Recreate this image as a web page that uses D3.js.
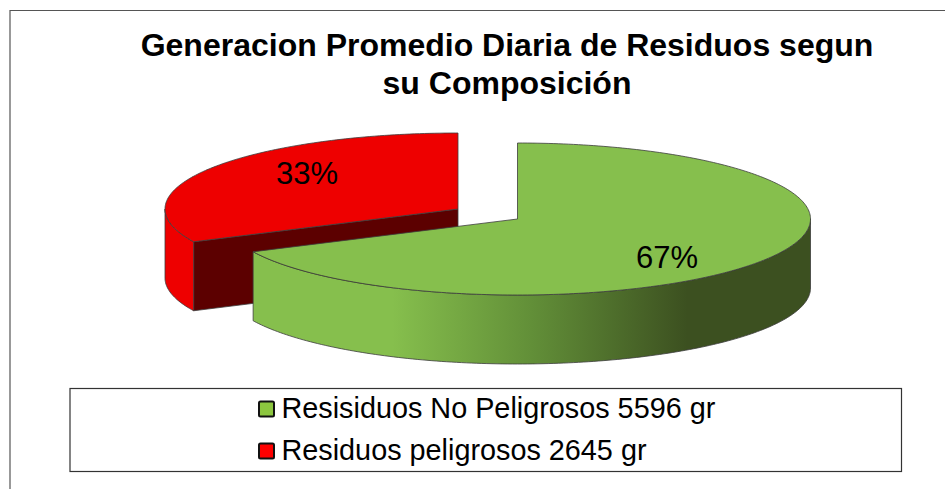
<!DOCTYPE html>
<html>
<head>
<meta charset="utf-8">
<script src="https://cdn.jsdelivr.net/npm/d3@7"></script>
<style>
  html, body { margin: 0; padding: 0; background: #fff; }
  svg { display: block; font-family: "Liberation Sans", Arial, sans-serif; }
</style>
</head>
<body>
<div id="chart"></div>
<script>
const titleLines = ["Generacion Promedio Diaria de Residuos segun", "su Composición"];
const categories = ["Resisiduos No Peligrosos 5596 gr", "Residuos peligrosos 2645 gr"];
const grams = [5596, 2645];
const percentLabels = ["67%", "33%"];

const width = 945, height = 489;
const rx = 293, ry = 76, depth = 69;
// each slice is pulled out of the pie on its own, so it has its own centre
const centres = [{ x: 517.5, y: 219 }, { x: 458, y: 209 }];
const labelPos = [{ x: 667, y: 268 }, { x: 307, y: 184 }];
const topColors = ["#86bf4d", "#ee0000"];
const legendColors = ["#8cc63f", "#ff0000"];
const edge = "#3c3c3c";

const svg = d3.select("#chart").append("svg")
    .attr("width", width)
    .attr("height", height);

const defs = svg.append("defs");
const grad = defs.append("linearGradient")
    .attr("id", "greenWall")
    .attr("gradientUnits", "userSpaceOnUse")
    .attr("x1", 253).attr("x2", 810).attr("y1", 0).attr("y2", 0);
grad.append("stop").attr("offset", "0.25").attr("stop-color", "#86bf4d");
grad.append("stop").attr("offset", "0.5").attr("stop-color", "#628f38");
grad.append("stop").attr("offset", "0.78").attr("stop-color", "#3c5020");

// chart frame, open on the right and bottom
svg.append("path")
    .attr("d", "M945,10.5H10V489")
    .attr("fill", "none")
    .attr("stroke", "#555")
    .attr("stroke-width", 1.2);

const title = svg.append("text")
    .attr("text-anchor", "middle")
    .attr("font-weight", "bold")
    .attr("font-size", 32)
    .attr("fill", "#000");
titleLines.forEach((t, i) => {
    title.append("tspan").attr("x", 507).attr("y", 55.5 + i * 38).text(t);
});

const pie = d3.pie().sort(null)(grams);
const step = Math.PI / 180;

// scales from the unit circle to the tilted ellipse of one slice
function ellipse(i) {
    const sx = d3.scaleLinear().domain([-1, 1]).range([centres[i].x - rx, centres[i].x + rx]);
    const sy = d3.scaleLinear().domain([-1, 1]).range([centres[i].y - ry, centres[i].y + ry]);
    return a => [sx(Math.sin(a)), sy(-Math.cos(a))];
}

const line = d3.line();

function arcPoints(i, a0, a1) {
    const p = ellipse(i);
    const pts = d3.range(a0, a1, step).map(p);
    pts.push(p(a1));
    return pts;
}

function wall(i, a0, a1) {
    const top = arcPoints(i, a0, a1);
    const bottom = top.map(d => [d[0], d[1] + depth]).reverse();
    return line(top.concat(bottom)) + "Z";
}

function sector(i) {
    const c = [centres[i].x, centres[i].y];
    return line([c].concat(arcPoints(i, pie[i].startAngle, pie[i].endAngle))) + "Z";
}

function drawSlice(g, i, wallFill, a0, a1) {
    g.append("path").attr("d", wall(i, a0, a1))
        .attr("fill", wallFill).attr("stroke", edge).attr("stroke-width", 0.8);
}

// red slice goes first, the green one overlaps it
const red = svg.append("g");
const redEnd = ellipse(1)(pie[1].startAngle);
red.append("path")
    .attr("d", line([
        [centres[1].x, centres[1].y],
        redEnd,
        [redEnd[0], redEnd[1] + depth],
        [centres[1].x, centres[1].y + depth]
    ]) + "Z")
    .attr("fill", "#5c0000").attr("stroke", edge).attr("stroke-width", 0.8);
drawSlice(red, 1, "#ee0000", pie[1].startAngle, 1.5 * Math.PI);
red.append("path").attr("d", sector(1))
    .attr("fill", topColors[1]).attr("stroke", edge).attr("stroke-width", 0.8);

const green = svg.append("g");
drawSlice(green, 0, "url(#greenWall)", 0.5 * Math.PI, pie[0].endAngle);
green.append("path").attr("d", sector(0))
    .attr("fill", topColors[0]).attr("stroke", edge).attr("stroke-width", 0.8);

svg.append("g").selectAll("text")
    .data(percentLabels)
    .join("text")
    .attr("x", (d, i) => labelPos[i].x)
    .attr("y", (d, i) => labelPos[i].y)
    .attr("text-anchor", "middle")
    .attr("font-size", 31)
    .attr("fill", "#000")
    .text(d => d);

// legend
svg.append("rect")
    .attr("x", 70).attr("y", 388.5)
    .attr("width", 831.5).attr("height", 83)
    .attr("fill", "#fff")
    .attr("stroke", "#333")
    .attr("stroke-width", 1.2);

const legend = svg.append("g").selectAll("g")
    .data(categories)
    .join("g")
    .attr("transform", (d, i) => "translate(259," + (409 + i * 42) + ")");

legend.append("rect")
    .attr("x", 0).attr("y", -7.5)
    .attr("width", 15).attr("height", 15)
    .attr("rx", 1.5)
    .attr("fill", (d, i) => legendColors[i])
    .attr("stroke", "#111")
    .attr("stroke-width", 2);

legend.append("text")
    .attr("x", 22.5)
    .attr("y", 8.5)
    .attr("font-size", 28.8)
    .attr("fill", "#000")
    .text(d => d);
</script>
</body>
</html>
